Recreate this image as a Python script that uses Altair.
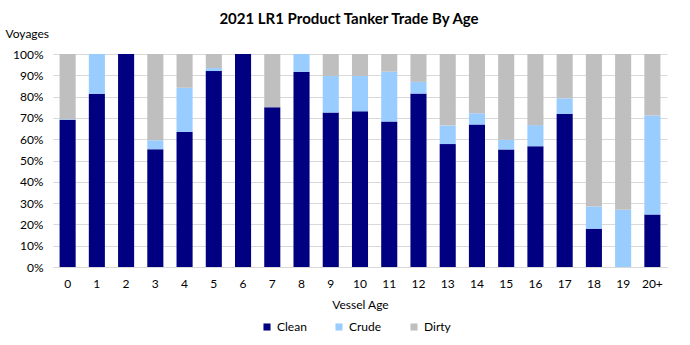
import altair as alt
import pandas as pd

ages = ["0", "1", "2", "3", "4", "5", "6", "7", "8", "9", "10",
        "11", "12", "13", "14", "15", "16", "17", "18", "19", "20+"]
clean = [69.1, 81.3, 100, 55.3, 63.4, 92.0, 100, 75.0, 91.7, 72.5, 73.1,
         68.3, 81.4, 57.7, 66.9, 55.2, 56.7, 71.9, 18.0, 0, 24.7]
crude = [0.3, 18.7, 0, 4.2, 20.8, 1.4, 0, 0, 8.3, 17.2, 16.6,
         23.4, 5.5, 8.7, 5.3, 4.6, 9.9, 7.3, 10.4, 26.9, 46.4]
dirty = [30.6, 0, 0, 40.5, 15.8, 6.6, 0, 25.0, 0, 10.3, 10.3,
         8.3, 13.1, 33.6, 27.8, 40.2, 33.4, 20.8, 71.6, 73.1, 28.9]
series = ["Clean", "Crude", "Dirty"]
colors = ["#000080", "#99CCFF", "#BFBFBF"]

rows = []
for i, a in enumerate(ages):
    for k, (name, vals) in enumerate(zip(series, [clean, crude, dirty])):
        rows.append({"age": a, "type": name, "value": vals[i], "ord": k})
df = pd.DataFrame(rows)

FONT = "Lato"

chart = alt.Chart(df).mark_bar().encode(
    x=alt.X("age:N", sort=ages,
            scale=alt.Scale(paddingInner=0.45, paddingOuter=0.225),
            axis=alt.Axis(title="Vessel Age", labelAngle=0, labelPadding=11,
                          labelFontSize=12, labelFont=FONT, labelColor="#000000",
                          titleFont=FONT, titleFontSize=12, titleFontWeight="normal",
                          titleColor="#000000", titleY=37, titleBaseline="middle",
                          ticks=False, domain=True, domainColor="#D9D9D9",
                          domainWidth=1)),
    y=alt.Y("value:Q", stack="normalize",
            scale=alt.Scale(domain=[0, 1], nice=False),
            axis=alt.Axis(title="Voyages", format=".0%",
                          values=[i / 10 for i in range(11)],
                          labelFontSize=12, labelFont=FONT, labelColor="#000000",
                          labelPadding=10,
                          titleFont=FONT, titleFontSize=12, titleFontWeight="normal",
                          titleColor="#000000", titleAngle=0, titleAlign="left",
                          titleBaseline="middle", titleX=-48, titleY=-21,
                          ticks=False, domain=False, grid=True,
                          gridColor="#D9D9D9", gridWidth=1)),
    color=alt.Color("type:N", sort=series,
                    scale=alt.Scale(domain=series, range=colors),
                    legend=alt.Legend(title=None, orient="none", direction="horizontal",
                                      legendX=208, legendY=267,
                                      symbolType="square", symbolSize=50,
                                      symbolStrokeWidth=0,
                                      labelFont=FONT, labelFontSize=12,
                                      labelColor="#000000", labelOffset=4,
                                      columnPadding=26)),
    order=alt.Order("ord:Q", sort="ascending"),
).properties(
    width=614,
    height=213,
    title=alt.TitleParams("2021 LR1 Product Tanker Trade By Age", font=FONT,
                          fontSize=15, fontWeight="bold", color="#000000",
                          anchor="middle", dx=-11, offset=0),
    autosize=alt.AutoSizeParams(type="none"),
    padding={"left": 53, "top": 54, "right": 23, "bottom": 78},
).configure_view(stroke=None)

chart.save("out.html", embed_options={"renderer": "svg", "actions": False})
